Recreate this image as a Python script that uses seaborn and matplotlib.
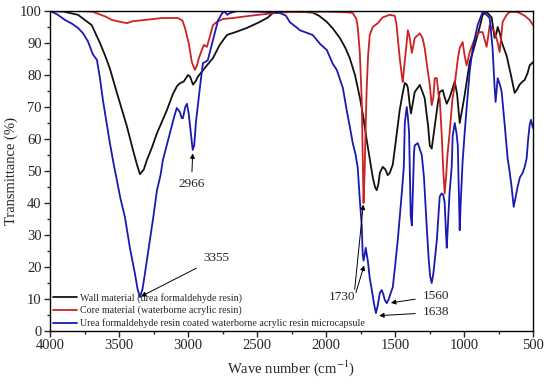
import numpy as np
import pandas as pd
import matplotlib
matplotlib.use('Agg')
import matplotlib.pyplot as plt
from matplotlib.ticker import MultipleLocator
import seaborn as sns

# wall material (urea formaldehyde resin)
wall_wn = [4000, 3900, 3797, 3698, 3638, 3600, 3566, 3515, 3443, 3399, 3370, 3348, 3320, 3298,
           3260, 3225, 3153, 3110, 3080, 3059, 3030, 3000, 2985, 2964, 2945, 2928, 2900, 2863,
           2819, 2769, 2718, 2650, 2574, 2479, 2420, 2385, 2300, 2200, 2096, 2050, 1994, 1950,
           1900, 1860, 1828, 1790, 1755, 1730, 1705, 1680, 1661, 1645, 1632, 1620, 1610, 1589,
           1570, 1553, 1538, 1516, 1487, 1466, 1444, 1429, 1415, 1407, 1393, 1384, 1357, 1320,
           1285, 1260, 1248, 1234, 1212, 1190, 1176, 1154, 1140, 1125, 1104, 1089, 1067, 1050,
           1031, 1010, 995, 959, 930, 908, 886, 865, 836, 800, 778, 765, 756, 740, 727, 691,
           660, 633, 615, 597, 575, 561, 540, 524, 500]
wall_t = [100, 99.8, 98.8, 95.6, 90, 86, 82, 74.4, 64, 56.6, 52, 49, 50.5, 53.4,
          57.5, 61.8, 69, 74, 76.5, 77.4, 78, 80, 79.5, 77, 78, 79.5, 81, 83,
          85.3, 89.5, 92.5, 93.5, 94.7, 96.6, 98, 99.4, 99.8, 99.8, 99.5, 98.5, 96.6, 94.5,
          91.6, 88.5, 85.3, 80, 73, 67, 59.7, 53, 48, 45, 44, 46, 49.4, 51.3,
          50.5, 48.7, 49.4, 52, 61.8, 69, 74.4, 77.5, 77, 76, 70.6, 68, 74.7, 76.9,
          72.8, 64, 58, 57, 64, 71, 74.7, 75.3, 73, 71, 73, 75, 78, 74,
          65, 70, 73.8, 84, 88, 91.6, 95, 98.8, 99.7, 98, 91.6, 93, 95, 93, 90.3, 86,
          80, 74.4, 75.5, 77, 78, 78.4, 80.5, 83, 84]

# core material (waterborne acrylic resin)
core_wn = [4000, 3800, 3693, 3600, 3551, 3480, 3443, 3400, 3312, 3189, 3073, 3040, 3022, 2995,
           2972, 2950, 2935, 2921, 2900, 2885, 2863, 2845, 2819, 2791, 2747, 2675, 2550, 2450,
           2357, 2250, 2000, 1850, 1806, 1780, 1770, 1755, 1741, 1732, 1728, 1720, 1712, 1705,
           1695, 1683, 1661, 1625, 1589, 1538, 1502, 1490, 1480, 1465, 1451, 1444, 1430, 1415,
           1407, 1395, 1386, 1378, 1368, 1357, 1320, 1300, 1285, 1265, 1248, 1234, 1222, 1212,
           1197, 1185, 1176, 1160, 1150, 1140, 1130, 1120, 1104, 1085, 1067, 1045, 1031, 1010,
           995, 981, 970, 959, 930, 908, 886, 865, 850, 836, 825, 814, 795, 778, 755, 742,
           730, 720, 691, 670, 620, 597, 560, 524, 500]
core_t = [100, 100, 99.8, 98.3, 97.2, 96.5, 96.2, 96.8, 97.2, 97.8, 97.8, 97, 94.7, 90,
          84, 81.6, 83, 85.3, 87.8, 89.4, 88.8, 91.5, 95.6, 96.6, 97.5, 97.8, 98.5, 99,
          99.4, 99.7, 99.8, 99.6, 99.4, 97.5, 95, 87, 72, 50, 40, 50, 65, 76,
          86, 92.5, 95, 96.2, 98, 98.8, 98.5, 96, 91.6, 85, 80, 77.8, 84, 90.3,
          94, 92, 89.4, 86.9, 89, 91.6, 93, 91.5, 88.4, 82, 76.9, 70.6, 73, 79,
          79, 74, 72.8, 60, 50, 43, 48, 55, 62, 72, 77, 85, 88.4, 90.3,
          86, 83, 85, 87.2, 90.5, 92.5, 93.4, 93.4, 91, 88.8, 92, 95.6, 94.5, 93.4, 90, 87.2,
          92, 96.6, 98.8, 99.7, 99.7, 99.4, 98.5, 97.2, 95.6]

# urea formaldehyde resin coated waterborne acrylic resin microcapsule
cap_wn = [4000, 3950, 3891, 3840, 3797, 3760, 3725, 3690, 3660, 3638, 3616, 3590, 3566, 3540,
          3515, 3490, 3457, 3421, 3385, 3365, 3348, 3330, 3312, 3276, 3250, 3225, 3200, 3182,
          3131, 3100, 3081, 3060, 3045, 3037, 3020, 3008, 2995, 2980, 2966, 2955, 2943, 2914,
          2892, 2870, 2856, 2819, 2783, 2750, 2733, 2715, 2700, 2646, 2500, 2380, 2334, 2290,
          2262, 2211, 2190, 2139, 2096, 2045, 1994, 1951, 1922, 1878, 1850, 1828, 1806, 1785,
          1770, 1755, 1741, 1734, 1728, 1719, 1712, 1705, 1697, 1683, 1668, 1650, 1638, 1625,
          1610, 1596, 1585, 1574, 1560, 1545, 1530, 1516, 1500, 1480, 1465, 1451, 1436, 1429,
          1415, 1407, 1398, 1390, 1386, 1378, 1370, 1362, 1357, 1335, 1306, 1290, 1270, 1255,
          1245, 1234, 1222, 1212, 1197, 1176, 1162, 1150, 1140, 1130, 1125, 1118, 1105, 1089,
          1082, 1067, 1055, 1045, 1038, 1031, 1024, 1010, 995, 981, 959, 937, 901, 865,
          836, 814, 793, 778, 771, 756, 740, 727, 705, 684, 670, 655, 640, 625,
          612, 595, 575, 560, 546, 535, 524, 515, 500]
cap_t = [100, 99, 97.2, 96, 94.7, 93, 90.5, 86.5, 84.7, 79, 72, 65, 58.7, 52.5,
         47, 41.5, 35.6, 26, 18, 13, 10.6, 13, 18, 28.4, 36, 44, 48.5, 53.4,
         61.8, 67, 69.7, 68.5, 66.5, 66.5, 70, 71, 68, 62, 56.6, 58, 65, 76,
         83.7, 84.2, 84.7, 91, 97, 99.5, 99.7, 98.8, 99.3, 100, 99.8, 99.6, 99.4, 98.5,
         96.5, 94.8, 94, 93.2, 92.5, 89.8, 87.8, 83.5, 81.6, 76, 69, 64, 58.7, 55,
         51, 41, 33, 24, 22, 24, 26, 24, 22, 16.5, 12.8, 8, 5.6, 8,
         11.9, 12.8, 11.5, 9.7, 8.7, 10, 12, 13.7, 20, 28.4, 36, 43, 51.3, 65,
         70, 67, 62, 45, 36, 33, 45, 56, 58, 58.7, 55, 48, 32.5, 22,
         17, 15, 18, 22, 28.4, 42, 43, 42.5, 40, 30, 26, 32, 43, 51.3,
         61, 65, 62, 58, 45, 31.5, 40, 53, 62, 69.7, 81, 88.4, 95.6, 99.7,
         98.8, 97.8, 88.4, 76, 71.6, 79, 77, 74.7, 64.4, 54, 50, 45, 38.8, 42,
         45, 48, 49.4, 51.3, 54, 60, 64.4, 66, 63.4]

labels = ['Wall material (urea formaldehyde resin)',
          'Core material (waterborne acrylic resin)',
          'Urea formaldehyde resin coated waterborne acrylic resin microcapsule']
colors = ['#111111', '#cc2222', '#1a1ab0']

df = pd.concat([
    pd.DataFrame({'wn': wall_wn, 't': wall_t, 'sample': labels[0]}),
    pd.DataFrame({'wn': core_wn, 't': core_t, 'sample': labels[1]}),
    pd.DataFrame({'wn': cap_wn, 't': cap_t, 'sample': labels[2]}),
])

sns.set_style('ticks')
plt.rcParams['font.family'] = ['Liberation Serif', 'DejaVu Serif']
plt.rcParams['mathtext.fontset'] = 'stix'

fig = plt.figure(figsize=(5.5, 3.84), dpi=100)
ax = fig.add_axes([50 / 550, 1 - 331 / 384, 483 / 550, 320 / 384])

sns.lineplot(data=df, x='wn', y='t', hue='sample', hue_order=labels,
             palette=colors, estimator=None, sort=False, lw=1.3, ax=ax)

ax.set_xlim(4000, 500)
ax.set_ylim(0, 100)
ax.xaxis.set_major_locator(MultipleLocator(500))
ax.xaxis.set_minor_locator(MultipleLocator(250))
ax.yaxis.set_major_locator(MultipleLocator(10))
ax.yaxis.set_minor_locator(MultipleLocator(5))
ax.tick_params(axis='both', which='major', direction='out', length=4, width=1,
               labelsize=10.5, pad=2)
ax.tick_params(axis='both', which='minor', direction='out', length=2.5, width=1)
for sp in ax.spines.values():
    sp.set_linewidth(1)
    sp.set_color('black')

ax.set_xlabel('Wave number (cm$^{-1}$)', fontsize=10.5, labelpad=4)
ax.set_ylabel('Transmittance (%)', fontsize=10.5, labelpad=1)

leg = ax.legend(loc='lower left', bbox_to_anchor=(0.0, 0.0), frameon=False,
                fontsize=7.2, handlelength=2.4, handletextpad=0.3,
                labelspacing=0.3, borderaxespad=0.1, borderpad=0.2)
leg.set_zorder(1)

arrow = dict(arrowstyle='-|>', color='black', lw=0.7, mutation_scale=7,
             shrinkA=0, shrinkB=0)
fs = 9.5
ax.annotate('2966', xy=(2966, 55.5), xytext=(2975, 46), ha='center', va='center',
            fontsize=fs, arrowprops=dict(arrow, shrinkA=2))
ax.annotate('3355', xy=(3340, 10.8), xytext=(2890, 22.8), ha='left', va='center',
            fontsize=fs, arrowprops=dict(arrow, shrinkA=3))
ax.text(1790, 10.5, '1730', ha='right', va='center', fontsize=fs)
ax.annotate('', xy=(1730, 39.5), xytext=(1792, 13), arrowprops=arrow)
ax.annotate('', xy=(1724, 20.5), xytext=(1783, 12), arrowprops=arrow)
ax.annotate('1560', xy=(1530, 8.8), xytext=(1300, 10.9), ha='left', va='center',
            fontsize=fs, arrowprops=dict(arrow, shrinkA=3))
ax.annotate('1638', xy=(1615, 4.8), xytext=(1300, 5.8), ha='left', va='center',
            fontsize=fs, arrowprops=dict(arrow, shrinkA=3))

fig.savefig('out.png', dpi=100)
